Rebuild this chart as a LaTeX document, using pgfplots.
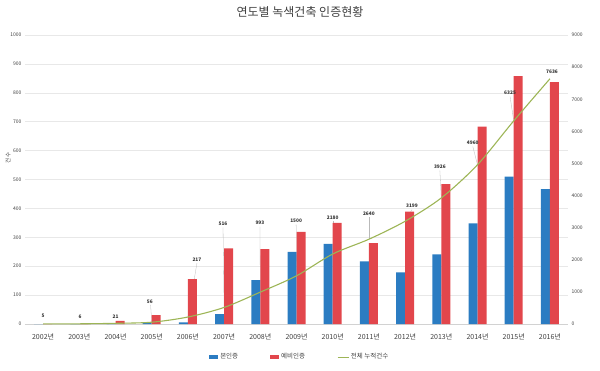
\documentclass[border=0pt]{standalone}
\usepackage{pgfplots}
\pgfplotsset{compat=1.18}
\usepackage{fontspec}
\setmainfont{Noto Sans CJK KR}
\definecolor{cblue}{HTML}{2B7CC2}
\definecolor{cred}{HTML}{E2464C}
\definecolor{cgreen}{HTML}{9DB556}
\definecolor{ctext}{HTML}{404040}
\begin{document}
\begin{tikzpicture}
\path[use as bounding box] (-25pt,-46pt) rectangle (575pt,324pt);
\begin{axis}[
  at={(0pt,0pt)}, anchor=south west,
  scale only axis, width=543pt, height=289pt,
  xmin=-0.5, xmax=14.5, ymin=0, ymax=1000,
  ybar=0pt, bar width=9pt,
  xtick={0,...,14},
  xticklabels={2002년,2003년,2004년,2005년,2006년,2007년,2008년,2009년,2010년,2011년,2012년,2013년,2014년,2015년,2016년},
  ytick={0,100,...,1000},
  axis x line*=bottom, axis y line*=left,
  x axis line style={draw=gray!35, -}, y axis line style={draw=none},
  tick style={draw=none},
  ymajorgrids, grid style={gray!18, line width=0.4pt},
  yticklabel style={font=\fontsize{5}{6}\selectfont, text=ctext},
  xticklabel style={font=\fontsize{7}{8}\selectfont, text=ctext, yshift=-2pt},
  /pgf/number format/assume math mode=true,
  /pgf/number format/1000 sep={},
  legend columns=3,
  legend style={at={(0.506,-0.114)}, anchor=center, draw=none, fill=none,
    font=\fontsize{6.5}{7}\selectfont, text=ctext,
    /tikz/every even column/.append style={column sep=30pt}},
]
% leader lines (behind bars)
\draw[gray!55, line width=0.3pt] (axis cs:2.97,66) -- (axis cs:3,6.2);
\draw[gray!55, line width=0.3pt] (axis cs:4.25,211) -- (axis cs:4,24);
\draw[gray!55, line width=0.3pt] (axis cs:4.97,334) -- (axis cs:5,57);
\draw[gray!55, line width=0.3pt] (axis cs:5.99,337) -- (axis cs:6,110);
\draw[gray!55, line width=0.3pt] (axis cs:6.99,344) -- (axis cs:7,167);
\draw[gray!55, line width=0.3pt] (axis cs:8.0,355) -- (axis cs:8,242);
\draw[gray!55, line width=0.3pt] (axis cs:9.0,369) -- (axis cs:9,293);
\draw[gray!55, line width=0.3pt] (axis cs:10.19,396) -- (axis cs:10,355);
\draw[gray!55, line width=0.3pt] (axis cs:10.96,531) -- (axis cs:11,436);
\draw[gray!55, line width=0.3pt] (axis cs:11.87,614) -- (axis cs:12,551);
\draw[gray!55, line width=0.3pt] (axis cs:12.90,787) -- (axis cs:13,703);
\addplot[fill=cblue, draw=none, legend image code/.code={\fill[cblue] (0pt,-2pt) rectangle (9pt,2pt);}] coordinates {
(0,0) (1,0) (2,0) (3,3) (4,6) (5,34) (6,152) (7,250) (8,277) (9,217) (10,179) (11,241) (12,348) (13,510) (14,467)};
\addlegendentry{본인증}
\addplot[fill=cred, draw=none, legend image code/.code={\fill[cred] (0pt,-2pt) rectangle (9pt,2pt);}] coordinates {
(0,0) (1,0) (2,11) (3,31) (4,155) (5,262) (6,259) (7,319) (8,350) (9,280) (10,389) (11,484) (12,683) (13,858) (14,837)};
\addlegendentry{예비인증}
\addlegendimage{legend image code/.code={\draw[cgreen, line width=0.8pt] (0pt,0pt) -- (11pt,0pt);}}
\addlegendentry{전체 누적건수}
\end{axis}
\begin{axis}[
  at={(0pt,0pt)}, anchor=south west,
  scale only axis, width=543pt, height=289pt,
  xmin=-0.5, xmax=14.5, ymin=0, ymax=9000,
  axis x line=none, axis y line*=right,
  y axis line style={draw=none}, tick style={draw=none},
  ytick={0,1000,...,9000},
  yticklabel style={font=\fontsize{5}{6}\selectfont, text=ctext},
  /pgf/number format/assume math mode=true,
  /pgf/number format/1000 sep={},
]
\addplot[smooth, color=cgreen, line width=1.1pt] coordinates {
(0,5) (1,6) (2,21) (3,56) (4,217) (5,516) (6,993) (7,1500) (8,2180) (9,2640) (10,3199) (11,3926) (12,4960) (13,6325) (14,7636)};
\begin{scope}[every node/.style={font=\bfseries\fontsize{4.8}{5}\selectfont, text=black!80}]
\node at (axis cs:0.0,252) {5};
\node at (axis cs:1.02,216) {6};
\node at (axis cs:2.0,216) {21};
\node at (axis cs:2.95,684) {56};
\node at (axis cs:4.25,1989) {217};
\node at (axis cs:4.97,3114) {516};
\node at (axis cs:5.99,3141) {993};
\node at (axis cs:6.99,3204) {1500};
\node at (axis cs:8.0,3303) {2180};
\node at (axis cs:9.0,3429) {2640};
\node at (axis cs:10.19,3672) {3199};
\node at (axis cs:10.96,4887) {3926};
\node at (axis cs:11.87,5634) {4960};
\node at (axis cs:12.90,7191) {6325};
\node at (axis cs:14.06,7848) {7636};
\end{scope}
\end{axis}
\node[rotate=90, font=\fontsize{5.5}{6}\selectfont, text=ctext] at (-17pt,166pt) {건수};
\node[font=\fontsize{12}{14}\selectfont, text=ctext] at (275pt,312pt) {연도별 녹색건축 인증현황};
\end{tikzpicture}
\end{document}
